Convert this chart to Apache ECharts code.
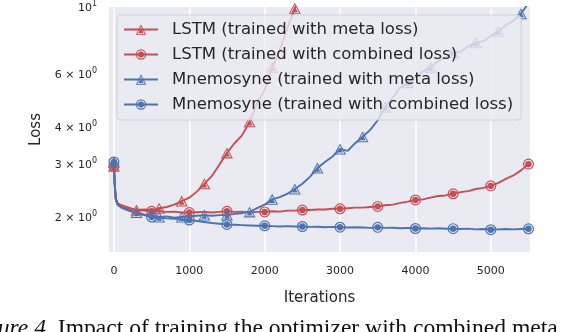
<!DOCTYPE html>
<html><head><meta charset="utf-8">
<script src="https://cdn.jsdelivr.net/npm/echarts@6/dist/echarts.min.js"></script>
<style>html,body{margin:0;padding:0;background:#fff}#c{width:564px;height:332px}</style>
</head><body><div id="c"></div>
<script>
// ---- data ----
const iterations = [0, 10, 25, 50,
  100, 200, 300, 400, 500, 600, 700, 800, 900, 1000,
  1100, 1200, 1300, 1400, 1500, 1600, 1700, 1800, 1900, 2000,
  2100, 2200, 2300, 2400, 2500, 2600, 2700, 2800, 2900, 3000,
  3100, 3200, 3300, 3400, 3500, 3600, 3700, 3800, 3900, 4000,
  4100, 4200, 4300, 4400, 4500, 4600, 4700, 4800, 4900, 5000,
  5100, 5200, 5300, 5400, 5500];

const lstmMeta = [2.95, 2.6, 2.3, 2.22,
  2.19, 2.15, 2.11, 2.12, 2.11, 2.14, 2.16, 2.2, 2.26, 2.32,
  2.43, 2.58, 2.74, 2.99, 3.27, 3.52, 3.74, 4.15, 4.8, 5.3,
  6.3, 7.2, 8.5, 9.9, 11.5, null, null, null, null, null,
  null, null, null, null, null, null, null, null, null, null,
  null, null, null, null, null, null, null, null, null, null,
  null, null, null, null, null];

const lstmCombined = [2.95, 2.55, 2.28, 2.2,
  2.16, 2.13, 2.11, 2.10, 2.09, 2.09, 2.08, 2.085, 2.07, 2.07,
  2.075, 2.08, 2.07, 2.08, 2.09, 2.08, 2.085, 2.07, 2.08, 2.08,
  2.09, 2.085, 2.10, 2.10, 2.11, 2.11, 2.12, 2.12, 2.13, 2.13,
  2.14, 2.15, 2.15, 2.16, 2.17, 2.19, 2.2, 2.23, 2.25, 2.28,
  2.29, 2.32, 2.35, 2.36, 2.39, 2.42, 2.44, 2.48, 2.5, 2.54,
  2.6, 2.68, 2.75, 2.86, 3.0];

const mnemoMeta = [3.05, 2.6, 2.3, 2.2,
  2.15, 2.1, 2.07, 2.04, 2.02, 2.0, 2.01, 1.99, 2.0, 2.01,
  2.02, 2.03, 2.02, 2.03, 2.03, 2.05, 2.06, 2.08, 2.14, 2.2,
  2.29, 2.33, 2.39, 2.48, 2.58, 2.72, 2.91, 3.05, 3.18, 3.37,
  3.32, 3.52, 3.70, 3.9, 4.2, 4.65, 5.0, 5.4, 5.6, 5.85,
  6.1, 6.3, 6.6, 6.8, 7.05, 7.1, 7.4, 7.6, 7.7, 8.0,
  8.3, 8.7, 9.0, 9.5, 10.3];

const mnemoCombined = [3.05, 2.6, 2.3, 2.2,
  2.15, 2.1, 2.06, 2.03, 2.0, 1.99, 1.98, 1.975, 1.96, 1.955,
  1.94, 1.925, 1.91, 1.9, 1.89, 1.885, 1.88, 1.875, 1.87, 1.87,
  1.865, 1.86, 1.865, 1.86, 1.86, 1.855, 1.857, 1.85, 1.855, 1.85,
  1.845, 1.85, 1.845, 1.84, 1.848, 1.84, 1.842, 1.835, 1.84, 1.832,
  1.835, 1.83, 1.835, 1.828, 1.83, 1.825, 1.83, 1.82, 1.825, 1.815,
  1.82, 1.825, 1.82, 1.825, 1.828];

const seriesNames = [
  'LSTM (trained with meta loss)',
  'LSTM (trained with combined loss)',
  'Mnemosyne (trained with meta loss)',
  'Mnemosyne (trained with combined loss)'
];
const xTicks = [0, 1000, 2000, 3000, 4000, 5000];
const yTicks = [2, 3, 4, 6, 10];
const xName = 'Iterations';
const yName = 'Loss';
const captionLabel = 'Figure 4.';
const captionText = 'Impact of training the optimizer with combined meta';

// ---- styles ----
const RED = '#C44E52', BLUE = '#4C72B0';
const FONT = 'DejaVu Sans';
const TRI = 'path://M12,0L24,21L0,21ZM12,3.9L3.4,19L20.6,19ZM12,7.2L6.2,17.4L17.8,17.4Z';
const CIR = 'path://M0,12A12,12,0,1,1,24,12A12,12,0,1,1,0,12ZM2.6,12A9.4,9.4,0,1,0,21.4,12A9.4,9.4,0,1,0,2.6,12ZM5,12A7,7,0,1,1,19,12A7,7,0,1,1,5,12Z';

function mk(name, vals, color, symbol, every, size) {
  return {
    name, type: 'line',
    data: iterations.map((x, i) => [x, vals[i]]),
    color, symbol,
    symbolSize: v => (v[0] % every === 0 ? size : 0),
    showSymbol: true, showAllSymbol: true,
    lineStyle: { width: 1.9, color },
    itemStyle: { color, borderWidth: 0 },
    clip: true, connectNulls: false,
    emphasis: { disabled: true }
  };
}

const chart = echarts.init(document.getElementById('c'), null, { renderer: 'canvas' });
chart.setOption({
  animation: false,
  backgroundColor: '#ffffff',
  grid: { left: 109, right: 34, top: 7, bottom: 80, show: true, backgroundColor: '#EAEAF2', borderWidth: 0 },
  xAxis: {
    type: 'value', min: -65, max: 5520,
    axisLine: { show: false }, axisTick: { show: false, customValues: xTicks },
    axisLabel: { customValues: xTicks, margin: 14, fontSize: 11, color: '#262626', fontFamily: FONT,
      formatter: v => String(Math.round(v)) },
    splitLine: { show: true, lineStyle: { color: '#ffffff', width: 1.5 } },
    name: xName, nameLocation: 'middle', nameGap: 39,
    nameTextStyle: { fontSize: 15, color: '#262626', fontFamily: FONT }
  },
  yAxis: {
    type: 'log', logBase: 10, min: 1.53, max: 10,
    axisLine: { show: false }, axisTick: { show: false },
    splitLine: { show: false }, minorSplitLine: { show: false },
    axisLabel: {
      customValues: yTicks, margin: 12, color: '#262626', fontFamily: FONT,
      formatter: v => {
        const r = Math.round(v * 100) / 100;
        return r === 10 ? '{b|10}{s|1}' : '{b|' + r + ' \u00d7 10}{s|0}';
      },
      rich: {
        b: { fontSize: 11, color: '#262626', fontFamily: FONT, lineHeight: 14, verticalAlign: 'bottom' },
        s: { fontSize: 8, color: '#262626', fontFamily: FONT, lineHeight: 9, verticalAlign: 'top' }
      }
    },
    name: yName, nameLocation: 'middle', nameGap: 56,
    nameTextStyle: { fontSize: 15, color: '#262626', fontFamily: FONT }
  },
  legend: {
    orient: 'vertical', left: 117, top: 15, padding: [6, 8, 7, 6],
    itemWidth: 34, itemHeight: 13, itemGap: 8,
    backgroundColor: 'rgba(234,234,242,0.8)', borderColor: 'rgba(204,204,204,0.8)',
    borderWidth: 1, borderRadius: 4,
    textStyle: { fontSize: 16.5, color: '#262626', fontFamily: FONT, padding: [0, 0, 0, 9] },
    data: seriesNames
  },
  graphic: [{
    type: 'text', x: -35, y: 317, silent: true,
    style: {
      text: '{i|' + captionLabel + '} ' + captionText,
      fontSize: 23.6, fontFamily: 'Liberation Serif', fill: '#111', verticalAlign: 'top',
      rich: { i: { fontSize: 23.6, fontFamily: 'Liberation Serif', fontStyle: 'italic', fill: '#111' } }
    }
  }],
  series: [
    mk(seriesNames[0], lstmMeta, RED, TRI, 300, [12, 11]),
    mk(seriesNames[1], lstmCombined, RED, CIR, 500, 11),
    mk(seriesNames[2], mnemoMeta, BLUE, TRI, 300, [12, 11]),
    mk(seriesNames[3], mnemoCombined, BLUE, CIR, 500, 11)
  ]
});
</script></body></html>
